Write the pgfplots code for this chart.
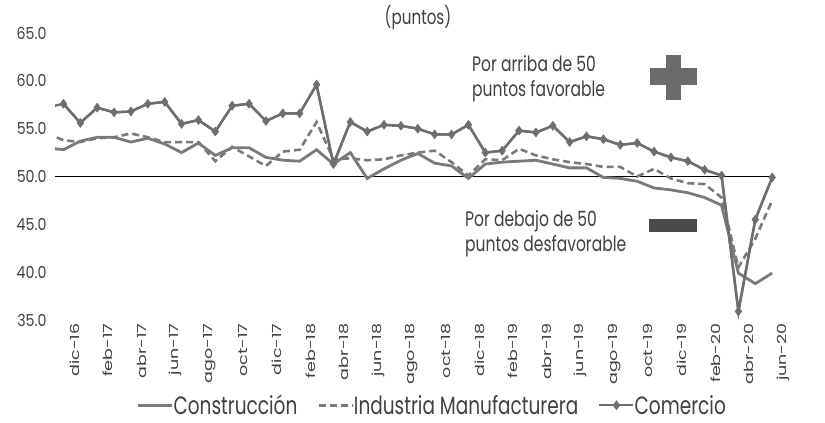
\documentclass[border=0pt]{standalone}
\usepackage{fontspec}
\setmainfont{Poppins}[FakeStretch=0.74]
\newfontfamily\tickfont{Poppins}[FakeStretch=0.86]
\newfontfamily\vfont{Poppins}[FakeStretch=1.4]
\newfontfamily\numfont{DejaVu Sans}[FakeStretch=0.75]
\usepackage{pgfplots}
\usepackage{pgfplotstable}
\pgfplotsset{compat=1.18}
\definecolor{txt}{HTML}{404040}
\definecolor{ln}{HTML}{7A7A7A}
\definecolor{lnc}{HTML}{6E6E6E}
\definecolor{plus}{HTML}{6B6B6B}
\definecolor{minus}{HTML}{4A4A4A}
\pgfplotstableread{
x con ind com
-1 53.0 54.5 57.2
0 52.8 53.8 57.6
1 53.7 53.6 55.6
2 54.1 54.0 57.2
3 54.1 54.1 56.7
4 53.6 54.5 56.8
5 54.0 54.1 57.6
6 53.4 53.6 57.8
7 52.5 53.6 55.5
8 53.5 53.6 55.9
9 52.2 51.6 54.7
10 53.0 53.1 57.4
11 53.0 52.1 57.6
12 52.0 51.1 55.8
13 51.7 52.6 56.6
14 51.6 52.8 56.6
15 52.8 55.7 59.6
16 51.3 51.8 51.3
17 52.5 51.9 55.7
18 49.8 51.7 54.7
19 50.8 51.8 55.4
20 51.7 52.2 55.3
21 52.4 52.5 55.0
22 51.4 52.7 54.4
23 51.1 51.5 54.4
24 49.8 50.1 55.4
25 51.3 51.8 52.5
26 51.5 51.7 52.7
27 51.6 52.9 54.8
28 51.7 52.2 54.6
29 51.3 51.8 55.3
30 50.9 51.5 53.6
31 50.9 51.3 54.2
32 49.9 51.0 53.9
33 49.8 51.0 53.3
34 49.5 50.0 53.5
35 48.8 50.8 52.6
36 48.6 49.8 52.0
37 48.3 49.3 51.6
38 47.8 49.2 50.7
39 47.0 47.8 50.1
40 39.9 40.5 35.9
41 38.8 43.5 45.5
42 39.9 47.5 49.9
}\datatable
\begin{document}
\begin{tikzpicture}
\path[use as bounding box] (0pt,0pt) rectangle (825pt,423pt);
\begin{axis}[
  at={(55pt,103pt)}, anchor=south west,
  scale only axis, width=725.6pt, height=287pt,
  xmin=-0.5, xmax=42.5, ymin=35, ymax=65,
  axis line style={draw=none}, tick style={draw=none},
  ytick={35,40,...,65},
  yticklabel style={font=\tickfont\fontsize{16.5}{16.5}\selectfont, text=txt, xshift=-5pt},
  y tick label style={/pgf/number format/.cd, fixed, fixed zerofill, precision=1, assume math mode=true},
  xtick={0,2,...,42},
  xticklabels={dic-16,feb-17,abr-17,jun-17,ago-17,oct-17,dic-17,feb-18,abr-18,jun-18,ago-18,oct-18,dic-18,feb-19,abr-19,jun-19,ago-19,oct-19,dic-19,feb-20,abr-20,jun-20},
  xticklabel style={rotate=90, anchor=east, font=\vfont\fontsize{12.5}{12.5}\selectfont, text=txt, yshift=-11pt},
  legend columns=3,
  legend style={draw=none, fill=none, inner sep=0pt, at={(0.52,-0.297)}, anchor=center, font=\fontsize{25}{25}\selectfont, text=txt, /tikz/every even column/.append style={column sep=18pt}, /tikz/every odd column/.append style={column sep=-2pt}},
  legend image code/.code={\draw[mark repeat=2,mark phase=2,#1] plot coordinates {(0pt,0pt) (17pt,0pt) (34pt,0pt)};},
]
\addplot[black, line width=0.8pt, forget plot] coordinates {(-0.5,50) (42,50)};
\addplot[ln, line width=2.8pt, no marks] table[x=x, y=con] {\datatable};
\addlegendentry{Construcción}
\addplot[ln, line width=2.6pt, no marks, dash pattern=on 7pt off 4pt] table[x=x, y=ind] {\datatable};
\addlegendentry{Industria Manufacturera}
\addplot[lnc, line width=2.4pt, no marks, forget plot] table[x=x, y=com] {\datatable};
\addplot[lnc, line width=2.4pt, mark=diamond*, mark size=4.5pt, mark options={fill=lnc, draw=lnc, line width=0.5pt}, restrict x to domain=-0.5:43] table[x=x, y=com] {\datatable};
\addlegendentry{Comercio}
\node[anchor=west, font=\numfont\bfseries\fontsize{16}{16}\selectfont, text=black] at (axis cs:42,49.9) [xshift=8pt] {49.9};
\node[anchor=west, font=\numfont\fontsize{16}{16}\selectfont, text=lnc] at (axis cs:42,47.3) [xshift=8pt] {47.5};
\node[anchor=west, font=\numfont\fontsize{16}{16}\selectfont, text=lnc] at (axis cs:42,39.9) [xshift=8pt] {39.9};
\end{axis}
\node[font=\fontsize{20.5}{20.5}\selectfont, text=txt] at (418pt,405pt) {(puntos)};
\node[anchor=base west, align=left, font=\fontsize{21}{25.5}\selectfont, text=txt, inner sep=0pt] at (472pt,326pt) {Por arriba de 50\\puntos favorable};
\node[anchor=base west, align=left, font=\fontsize{21}{25}\selectfont, text=txt, inner sep=0pt] at (465pt,171.5pt) {Por debajo de 50\\puntos desfavorable};
\fill[plus] (650pt,338pt) rectangle (697pt,355pt);
\fill[plus] (666pt,323pt) rectangle (681pt,368pt);
\fill[minus] (649pt,191pt) rectangle (697pt,204pt);
\end{tikzpicture}
\end{document}
